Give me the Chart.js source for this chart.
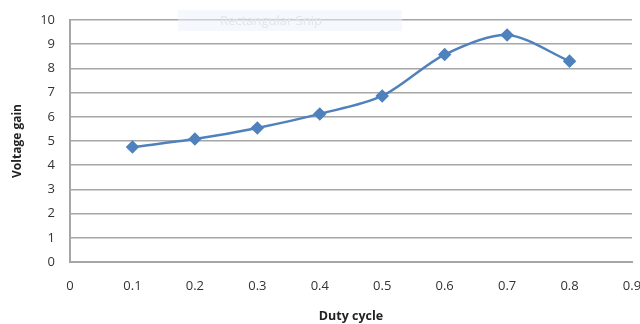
<!DOCTYPE html>
<html>
<head>
<meta charset="utf-8">
<script src="https://cdn.jsdelivr.net/npm/chart.js@4.4.0/dist/chart.umd.min.js"></script>
<style>
  html, body { margin: 0; padding: 0; background: #fff; overflow: hidden; }
  #wrap { position: relative; width: 640px; height: 324px; }
  #snip {
    position: absolute; left: 178px; top: 10px; width: 224px; height: 21px;
    background: rgba(235, 242, 250, 0.5); color: #e3e6eb;
    font: 13px "Open Sans", sans-serif; line-height: 21px; padding-left: 42px; box-sizing: border-box;
  }
</style>
</head>
<body>
<div id="wrap">
  <canvas id="chart" width="640" height="324"></canvas>
  <div id="snip">Rectangular Snip</div>
</div>
<script>
// --- data ---
const dutyCycle = [0.1, 0.2, 0.3, 0.4, 0.5, 0.6, 0.7, 0.8];
const voltageGain = [4.75, 5.08, 5.54, 6.12, 6.86, 8.57, 9.38, 8.3];
const xTicks = [0, 0.1, 0.2, 0.3, 0.4, 0.5, 0.6, 0.7, 0.8, 0.9];

const lineColor = '#4f81bd';
const gridColor = '#a6a6a6';

document.addEventListener('DOMContentLoaded', () => {
    const ctx = document.getElementById('chart').getContext('2d');

    new Chart(ctx, {
        type: 'line',
        data: {
            datasets: [{
                label: 'Voltage gain',
                data: dutyCycle.map((d, i) => ({ x: d, y: voltageGain[i] })),
                borderColor: lineColor,
                backgroundColor: lineColor,
                borderWidth: 2.5,
                tension: 0.3,
                pointStyle: 'rectRot',
                pointRadius: 5,
                pointHoverRadius: 5
            }]
        },
        options: {
            responsive: false,
            animation: false,
            layout: { padding: { left: 0, right: 8, top: 20, bottom: 0 } },
            scales: {
                x: {
                    type: 'linear',
                    min: 0,
                    max: 0.9,
                    afterBuildTicks: (axis) => { axis.ticks = xTicks.map(v => ({ value: v })); },
                    afterFit: (scale) => {
                        scale.height = 62;
                        scale.paddingLeft = 0;
                        scale.paddingRight = 0;
                    },
                    grid: { display: false, drawTicks: false },
                    border: { display: true, color: gridColor, width: 2 },
                    ticks: {
                        padding: 16,
                        maxRotation: 0,
                        color: '#333',
                        font: { family: 'Open Sans', size: 13 },
                        callback: (v) => String(+v.toFixed(1))
                    },
                    title: {
                        display: true, text: 'Duty cycle', color: '#222',
                        font: { family: 'Open Sans', size: 12.5, weight: 'bold' },
                        padding: { top: 0, bottom: 0 }
                    }
                },
                y: {
                    min: 0,
                    max: 10,
                    afterFit: (scale) => {
                        scale.width = 70;
                        scale.paddingTop = 0;
                        scale.paddingBottom = 0;
                    },
                    ticks: {
                        stepSize: 1,
                        padding: 15,
                        color: '#333',
                        font: { family: 'Open Sans', size: 13 }
                    },
                    grid: { color: gridColor, lineWidth: 1.5, drawTicks: false },
                    border: { display: true, color: gridColor, width: 2 },
                    title: {
                        display: true, text: 'Voltage gain', color: '#222',
                        font: { family: 'Open Sans', size: 12, weight: 'bold' },
                        padding: { top: 10, bottom: 0 }
                    }
                }
            },
            plugins: {
                legend: { display: false },
                tooltip: { enabled: false }
            }
        }
    });
});
</script>
</body>
</html>
